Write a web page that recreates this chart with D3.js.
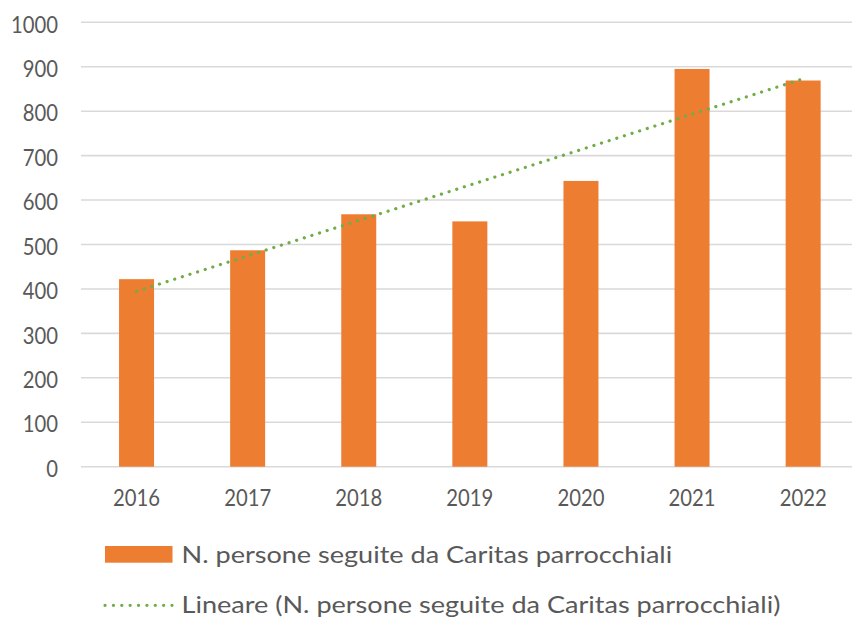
<!DOCTYPE html>
<html><head><meta charset="utf-8">
<script src="https://cdn.jsdelivr.net/npm/d3@7"></script>
<style>body{margin:0;background:#fff}svg{display:block}</style>
</head><body>
<svg id="c" width="852" height="618"></svg>
<script>
const years = ["2016","2017","2018","2019","2020","2021","2022"];
const values = [422, 487, 568, 552, 643, 895, 869];
const yTicks = [0,100,200,300,400,500,600,700,800,900,1000];
const seriesName = "N. persone seguite da Caritas parrocchiali";
const trendName = "Lineare (N. persone seguite da Caritas parrocchiali)";

const FONT = "Lato, 'Open Sans', sans-serif";
const TXT = "#595959";
const svg = d3.select("#c");

const x = d3.scaleBand().domain(years).range([81, 858.7]).paddingInner(0.685).paddingOuter(0.3425);
const y = d3.scaleLinear().domain([0, 1000]).range([466.7, 22.3]);

// gridlines
svg.append("g").selectAll("line").data(yTicks).join("line")
  .attr("x1", 81).attr("x2", 852)
  .attr("y1", d => y(d)).attr("y2", d => y(d))
  .attr("stroke", "#D9D9D9").attr("stroke-width", 1.6);

// fit font size helper
function fitSize(text, target) {
  const t = svg.append("text").attr("font-family", FONT).attr("font-size", 100).text(text);
  const w = t.node().getComputedTextLength();
  t.remove();
  return 100 * target / w;
}
const tickSize = fitSize("2016", 47);
const legSize = fitSize(seriesName, 491);
const capH = 0.7165;
const tickScale = 17 / (tickSize * capH);
const legScale = 17 / (legSize * capH);

// y axis labels
const yAxis = d3.axisLeft(y).tickValues(yTicks).tickFormat(d3.format("d")).tickSize(0).tickPadding(0);
const gy = svg.append("g").attr("transform", "translate(58,0)").call(yAxis);
gy.select(".domain").remove();
gy.selectAll("text").attr("font-family", FONT).attr("font-size", tickSize)
  .attr("fill", TXT).attr("dy", "0.36em").attr("y", 1)
  .attr("transform", `scale(1,${tickScale})`);

// x axis labels
const xAxis = d3.axisBottom(x).tickSize(0).tickPadding(0);
const gx = svg.append("g").attr("transform", "translate(0,506)").call(xAxis);
gx.select(".domain").remove();
gx.selectAll("text").attr("font-family", FONT).attr("font-size", tickSize)
  .attr("fill", TXT).attr("dy", 0).attr("y", 0)
  .attr("transform", `scale(1,${tickScale})`);

// bars
svg.append("g").selectAll("rect").data(values).join("rect")
  .attr("x", (d, i) => x(years[i])).attr("width", x.bandwidth())
  .attr("y", d => y(d)).attr("height", d => y(0) - y(d))
  .attr("fill", "#ED7D31");

// linear trend (least squares)
const n = values.length;
const xs = d3.range(n);
const mx = d3.mean(xs), my = d3.mean(values);
const slope = d3.sum(xs, i => (i - mx) * (values[i] - my)) / d3.sum(xs, i => (i - mx) ** 2);
const icpt = my - slope * mx;
const trend = xs.map(i => [x(years[i]) + x.bandwidth() / 2, y(icpt + slope * i)]);
svg.append("path").attr("d", d3.line()(trend))
  .attr("fill", "none").attr("stroke", "#70AD47").attr("stroke-width", 3.2)
  .attr("stroke-linecap", "round").attr("stroke-dasharray", "0.1 7.9");

// legend
const leg = svg.append("g");
leg.append("rect").attr("x", 105).attr("y", 546).attr("width", 67.5).attr("height", 16.7).attr("fill", "#ED7D31");
leg.append("text").attr("transform", `translate(181.5,562.7) scale(1,${legScale})`)
  .attr("font-family", FONT).attr("font-size", legSize)
  .attr("fill", TXT).text(seriesName);
leg.append("line").attr("x1", 105).attr("x2", 172).attr("y1", 605.3).attr("y2", 605.3)
  .attr("stroke", "#70AD47").attr("stroke-width", 3.2).attr("stroke-linecap", "round").attr("stroke-dasharray", "0.1 8.27");
leg.append("text").attr("transform", `translate(181.5,612.7) scale(1,${legScale})`)
  .attr("font-family", FONT).attr("font-size", legSize)
  .attr("fill", TXT).text(trendName);
</script>
</body></html>
